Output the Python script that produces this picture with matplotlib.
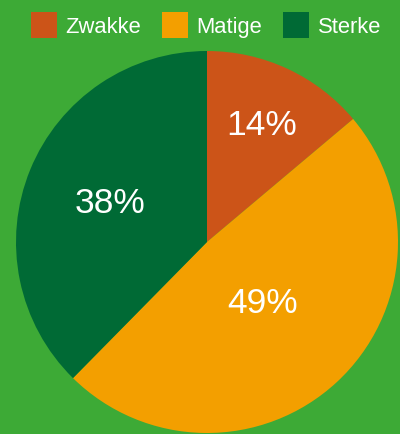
import numpy as np
import matplotlib.pyplot as plt
from matplotlib.patches import Patch

categories = ["Zwakke", "Matige", "Sterke"]
shares = [14, 49, 38]
colors = ["#CC5418", "#F39F00", "#006A35"]
label_dist = [0.68, 0.43, 0.55]
BG = "#3DAA36"

plt.rcParams["font.family"] = ["Liberation Sans", "DejaVu Sans"]

fig = plt.figure(figsize=(4.0, 4.35), dpi=100, facecolor=BG)
ax = fig.add_axes([16 / 400, 1 / 435, 382 / 400, 382 / 435])
ax.set_facecolor(BG)

wedges, _ = ax.pie(shares, colors=colors, startangle=90, counterclock=False,
                   radius=1.0, wedgeprops=dict(linewidth=0))

for w, v, d in zip(wedges, shares, label_dist):
    mid = np.deg2rad((w.theta1 + w.theta2) / 2)
    ax.text(d * np.cos(mid), d * np.sin(mid), f"{v}%", color="white",
            fontsize=25.5, ha="center", va="center")

ax.set_xlim(-1, 1)
ax.set_ylim(-1, 1)
ax.set_aspect("equal")
ax.axis("off")

handles = [Patch(facecolor=c, edgecolor="none") for c in colors]
leg = fig.legend(handles, categories, loc="center", bbox_to_anchor=(0.515, 1 - 26 / 435),
                 ncol=3, frameon=False, fontsize=15.8, labelcolor="white",
                 handlelength=1.17, handleheight=1.42, handletextpad=0.4,
                 columnspacing=0.95, borderaxespad=0)

fig.savefig("out.png", dpi=100, facecolor=BG)
